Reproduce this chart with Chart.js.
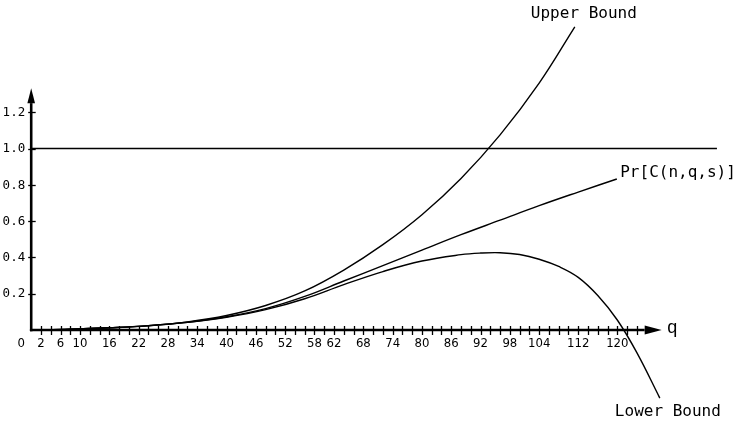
<!DOCTYPE html>
<html>
<head>
<meta charset="utf-8">
<script src="https://cdn.jsdelivr.net/npm/chart.js@4.4.1/dist/chart.umd.min.js"></script>
<style>
    body { margin: 0; background: #fff; }
    #wrap { width: 740px; height: 422px; position: relative; }
</style>
</head>
<body>
<div id="wrap"><canvas id="chart"></canvas></div>
<script>
// Values (q on x, probability on y)
const upperQ = [0, 8, 16, 24, 32, 40, 48, 56, 64, 72, 80, 88, 96, 104, 111.3];
const upperP = [0, 0.004, 0.012, 0.024, 0.045, 0.08, 0.135, 0.215, 0.33, 0.47, 0.635, 0.835, 1.075, 1.36, 1.67];

const prQ = [0, 8, 16, 24, 32, 40, 48, 56, 64, 72, 80, 88, 96, 104, 112, 119.9];
const prP = [0, 0.004, 0.012, 0.024, 0.043, 0.073, 0.118, 0.185, 0.27, 0.355, 0.44, 0.525, 0.605, 0.685, 0.76, 0.832];

const lowerQ = [0, 8, 16, 24, 32, 40, 48, 56, 64, 72, 80, 88, 92, 96, 100, 104, 108, 112, 116, 120, 124, 128.7];
const lowerP = [0, 0.004, 0.012, 0.023, 0.042, 0.07, 0.112, 0.172, 0.25, 0.322, 0.38, 0.415, 0.424, 0.426, 0.416, 0.39, 0.35, 0.29, 0.19, 0.055, -0.125, -0.375];

const oneQ = [0, 140.4];
const oneP = [1, 1];

const xTickLabels = [2, 6, 10, 16, 22, 28, 34, 40, 46, 52, 58, 62, 68, 74, 80, 86, 92, 98, 104, 112, 120];
const yTickLabels = [0.2, 0.4, 0.6, 0.8, 1.0, 1.2];

function pts(xs, ys) {
    return xs.map((x, i) => ({ x: x, y: ys[i] }));
}

const curve = {
    borderColor: '#000',
    borderWidth: 1.4,
    pointRadius: 0,
    fill: false,
    tension: 0.4,
};

// Hand-drawn style axes with arrows, ticks and curve labels
const axesPlugin = {
    id: 'axes',
    afterDatasetsDraw(chart) {
        const ctx = chart.ctx;
        const xs = chart.scales.x;
        const ys = chart.scales.y;
        const x0 = xs.getPixelForValue(0);
        const y0 = ys.getPixelForValue(0);
        ctx.save();
        ctx.strokeStyle = '#000';
        ctx.fillStyle = '#000';

        // x axis
        const xEnd = xs.getPixelForValue(125.6);
        ctx.lineWidth = 2.6;
        ctx.beginPath();
        ctx.moveTo(x0 - 1.3, y0);
        ctx.lineTo(xEnd, y0);
        ctx.stroke();
        ctx.beginPath();
        ctx.moveTo(xEnd, y0 - 4.5);
        ctx.lineTo(xEnd + 17, y0);
        ctx.lineTo(xEnd, y0 + 4.5);
        ctx.closePath();
        ctx.fill();

        // y axis
        const yEnd = ys.getPixelForValue(1.25);
        ctx.beginPath();
        ctx.moveTo(x0, y0 + 1.3);
        ctx.lineTo(x0, yEnd);
        ctx.stroke();
        ctx.beginPath();
        ctx.moveTo(x0 - 3.8, yEnd);
        ctx.lineTo(x0, yEnd - 15);
        ctx.lineTo(x0 + 3.8, yEnd);
        ctx.closePath();
        ctx.fill();

        // x ticks every 2
        ctx.lineWidth = 1.3;
        for (let q = 2; q <= 124; q += 2) {
            const px = Math.round(xs.getPixelForValue(q)) + 0.5;
            ctx.beginPath();
            ctx.moveTo(px, y0 - 4);
            ctx.lineTo(px, y0 + 5);
            ctx.stroke();
        }
        // y ticks
        yTickLabels.forEach(v => {
            const py = Math.round(ys.getPixelForValue(v)) + 0.5;
            ctx.beginPath();
            ctx.moveTo(x0 - 3, py);
            ctx.lineTo(x0 + 4.5, py);
            ctx.stroke();
        });

        // x tick labels
        ctx.font = '13px "Liberation Sans Narrow", "DejaVu Sans Condensed", sans-serif';
        ctx.textAlign = 'center';
        ctx.textBaseline = 'middle';
        ctx.fillText('0', x0 - 10, y0 + 14);
        xTickLabels.forEach(q => {
            ctx.fillText(String(q), xs.getPixelForValue(q), y0 + 14);
        });

        // y tick labels
        ctx.font = '12.5px "DejaVu Sans Mono", monospace';
        ctx.textAlign = 'right';
        yTickLabels.forEach(v => {
            ctx.fillText(v.toFixed(1), x0 - 6, ys.getPixelForValue(v) + 0.5);
        });

        // axis name
        ctx.font = '18px "Liberation Sans", sans-serif';
        ctx.textAlign = 'left';
        ctx.textBaseline = 'alphabetic';
        ctx.fillText('q', xs.getPixelForValue(130.2), y0 + 3);

        // curve labels
        ctx.font = '16px "DejaVu Sans Mono", monospace';
        ctx.textBaseline = 'middle';
        ctx.fillText('Upper Bound', xs.getPixelForValue(102.3), ys.getPixelForValue(1.741));
        ctx.fillText('Pr[C(n,q,s)]', xs.getPixelForValue(120.6), ys.getPixelForValue(0.868));
        ctx.fillText('Lower Bound', xs.getPixelForValue(119.5), ys.getPixelForValue(-0.452));
        ctx.restore();
    },
};

new Chart(document.getElementById('chart'), {
    type: 'line',
    data: {
        datasets: [
            { ...curve, data: pts(oneQ, oneP), tension: 0, borderWidth: 1.3 },
            { ...curve, data: pts(upperQ, upperP) },
            { ...curve, data: pts(prQ, prP) },
            { ...curve, data: pts(lowerQ, lowerP) },
        ],
    },
    options: {
        responsive: true,
        maintainAspectRatio: false,
        animation: false,
        layout: { padding: 0 },
        plugins: { legend: { display: false }, tooltip: { enabled: false } },
        scales: {
            x: { type: 'linear', display: false, min: -6.388, max: 145.12 },
            y: { type: 'linear', display: false, min: -0.5069, max: 1.8182 },
        },
    },
    plugins: [axesPlugin],
});
</script>
</body>
</html>
